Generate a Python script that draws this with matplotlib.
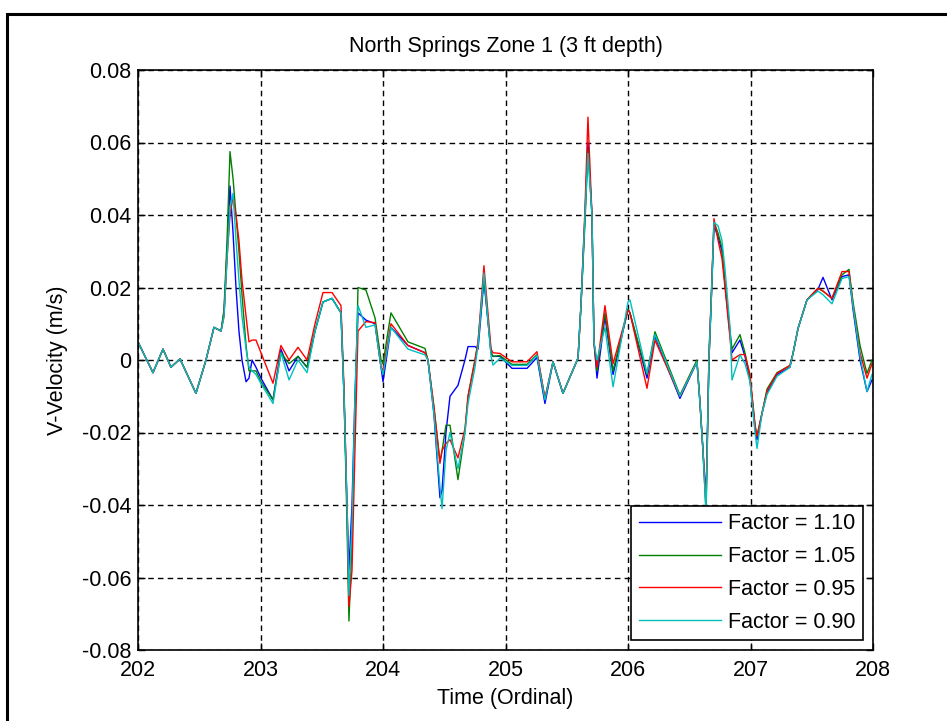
import matplotlib
matplotlib.use("Agg")
import matplotlib.pyplot as plt
from matplotlib.patches import Rectangle

plt.rcParams['font.family'] = ['Liberation Sans', 'DejaVu Sans']

# Time axis (ordinal days)
time = [202.000, 202.122, 202.204, 202.269, 202.343, 202.473, 202.555, 202.620,
        202.678, 202.702, 202.727, 202.751, 202.776, 202.800, 202.824, 202.849,
        202.882, 202.906, 202.931, 202.963, 203.004, 203.102, 203.167, 203.233,
        203.306, 203.380, 203.445, 203.510, 203.584, 203.657, 203.682, 203.706,
        203.722, 203.747, 203.771, 203.796, 203.861, 203.935, 203.984, 204.000,
        204.065, 204.204, 204.343, 204.367, 204.416, 204.465, 204.482, 204.514,
        204.547, 204.612, 204.669, 204.694, 204.751, 204.776, 204.824, 204.882,
        204.898, 204.955, 205.053, 205.176, 205.257, 205.322, 205.388, 205.469,
        205.592, 205.616, 205.649, 205.673, 205.706, 205.722, 205.747, 205.812,
        205.878, 206.000, 206.016, 206.155, 206.220, 206.424, 206.563, 206.588,
        206.612, 206.637, 206.661, 206.678, 206.702, 206.735, 206.767, 206.792,
        206.833, 206.849, 206.914, 206.955, 206.996, 207.037, 207.053, 207.094,
        207.135, 207.216, 207.322, 207.347, 207.388, 207.461, 207.551, 207.592,
        207.665, 207.747, 207.804, 207.837, 207.894, 207.951, 207.992]

# V-velocity (m/s) for each roughness factor
v_110 = [0.0050, -0.0035, 0.0030, -0.0020, 0.0003, -0.0092, 0.0000, 0.0090,
         0.0080, 0.0130, 0.0300, 0.0480, 0.0350, 0.0200, 0.0080, 0.0000,
         -0.0060, -0.0050, 0.0000, -0.0020, -0.0050, -0.0110, 0.0030, -0.0030,
         0.0010, -0.0020, 0.0080, 0.0160, 0.0170, 0.0130, -0.0100, -0.0400,
         -0.0580, -0.0400, -0.0100, 0.0130, 0.0110, 0.0100, -0.0020, -0.0060,
         0.0090, 0.0040, 0.0020, 0.0000, -0.0150, -0.0380, -0.0360, -0.0200,
         -0.0100, -0.0070, 0.0000, 0.0037, 0.0037, 0.0030, 0.0220, 0.0020,
         0.0010, 0.0010, -0.0023, -0.0023, 0.0007, -0.0120, -0.0005, -0.0092,
         0.0005, 0.0150, 0.0400, 0.0600, 0.0400, 0.0050, -0.0050, 0.0120,
         -0.0040, 0.0140, 0.0130, -0.0050, 0.0065, -0.0106, -0.0005, -0.0120,
         -0.0250, -0.0380, 0.0000, 0.0150, 0.0370, 0.0340, 0.0300, 0.0210,
         0.0070, 0.0020, 0.0055, 0.0010, -0.0055, -0.0190, -0.0220, -0.0147,
         -0.0090, -0.0040, -0.0020, 0.0018, 0.0087, 0.0166, 0.0195, 0.0228,
         0.0166, 0.0230, 0.0235, 0.0140, 0.0000, -0.0087, -0.0055]

v_105 = [0.0050, -0.0035, 0.0030, -0.0020, 0.0003, -0.0092, 0.0000, 0.0090,
         0.0080, 0.0140, 0.0330, 0.0575, 0.0500, 0.0400, 0.0300, 0.0180,
         0.0040, -0.0030, -0.0030, -0.0030, -0.0060, -0.0110, 0.0020, -0.0010,
         0.0010, -0.0020, 0.0080, 0.0160, 0.0170, 0.0130, -0.0100, -0.0450,
         -0.0720, -0.0500, -0.0150, 0.0200, 0.0193, 0.0116, 0.0000, -0.0010,
         0.0130, 0.0050, 0.0032, 0.0000, -0.0130, -0.0280, -0.0250, -0.0180,
         -0.0180, -0.0330, -0.0200, -0.0100, 0.0000, 0.0050, 0.0230, 0.0020,
         0.0010, 0.0012, -0.0012, -0.0012, 0.0015, -0.0106, -0.0005, -0.0092,
         0.0005, 0.0150, 0.0380, 0.0580, 0.0400, 0.0050, -0.0030, 0.0130,
         -0.0030, 0.0140, 0.0130, -0.0040, 0.0078, -0.0097, 0.0000, -0.0120,
         -0.0250, -0.0420, 0.0000, 0.0150, 0.0380, 0.0350, 0.0310, 0.0210,
         0.0080, 0.0030, 0.0070, 0.0020, -0.0050, -0.0180, -0.0210, -0.0147,
         -0.0080, -0.0035, -0.0015, 0.0018, 0.0087, 0.0166, 0.0198, 0.0190,
         0.0170, 0.0235, 0.0250, 0.0160, 0.0040, -0.0037, 0.0000]

v_095 = [0.0050, -0.0035, 0.0030, -0.0020, 0.0003, -0.0092, 0.0000, 0.0090,
         0.0080, 0.0120, 0.0280, 0.0400, 0.0450, 0.0400, 0.0330, 0.0220,
         0.0120, 0.0050, 0.0055, 0.0055, 0.0020, -0.0064, 0.0040, 0.0000,
         0.0035, 0.0000, 0.0100, 0.0186, 0.0186, 0.0150, -0.0080, -0.0400,
         -0.0680, -0.0580, -0.0250, 0.0080, 0.0106, 0.0103, -0.0020, -0.0030,
         0.0100, 0.0040, 0.0020, 0.0000, -0.0130, -0.0285, -0.0250, -0.0230,
         -0.0220, -0.0270, -0.0190, -0.0100, 0.0000, 0.0050, 0.0260, 0.0030,
         0.0020, 0.0018, -0.0005, -0.0005, 0.0023, -0.0106, -0.0005, -0.0092,
         0.0005, 0.0150, 0.0420, 0.0670, 0.0400, 0.0050, -0.0020, 0.0150,
         -0.0010, 0.0138, 0.0130, -0.0078, 0.0055, -0.0100, -0.0005, -0.0120,
         -0.0250, -0.0400, 0.0020, 0.0160, 0.0390, 0.0330, 0.0280, 0.0200,
         0.0060, 0.0000, 0.0015, 0.0015, -0.0040, -0.0180, -0.0210, -0.0147,
         -0.0085, -0.0037, -0.0015, 0.0018, 0.0087, 0.0166, 0.0198, 0.0190,
         0.0170, 0.0244, 0.0244, 0.0150, 0.0020, -0.0050, -0.0010]

v_090 = [0.0050, -0.0035, 0.0030, -0.0020, 0.0003, -0.0092, 0.0000, 0.0090,
         0.0080, 0.0120, 0.0280, 0.0420, 0.0460, 0.0330, 0.0220, 0.0120,
         0.0030, -0.0020, -0.0030, -0.0040, -0.0065, -0.0120, 0.0020, -0.0055,
         0.0000, -0.0035, 0.0080, 0.0160, 0.0170, 0.0130, -0.0100, -0.0400,
         -0.0650, -0.0450, -0.0100, 0.0150, 0.0090, 0.0097, -0.0020, -0.0040,
         0.0090, 0.0030, 0.0014, 0.0000, -0.0150, -0.0350, -0.0410, -0.0250,
         -0.0200, -0.0300, -0.0200, -0.0120, -0.0020, 0.0040, 0.0240, 0.0010,
         -0.0014, 0.0005, -0.0015, -0.0015, 0.0013, -0.0110, -0.0005, -0.0092,
         0.0005, 0.0150, 0.0400, 0.0570, 0.0400, 0.0050, 0.0000, 0.0090,
         -0.0074, 0.0160, 0.0166, -0.0037, 0.0070, -0.0100, -0.0005, -0.0120,
         -0.0250, -0.0420, 0.0010, 0.0150, 0.0380, 0.0370, 0.0330, 0.0250,
         0.0090, -0.0055, 0.0014, -0.0010, -0.0060, -0.0200, -0.0244, -0.0147,
         -0.0095, -0.0045, -0.0020, 0.0018, 0.0087, 0.0166, 0.0190, 0.0180,
         0.0155, 0.0225, 0.0230, 0.0150, 0.0010, -0.0087, -0.0040]

series = [
    ("Factor = 1.10", v_110, (0.0, 0.0, 1.0)),
    ("Factor = 1.05", v_105, (0.0, 0.5, 0.0)),
    ("Factor = 0.95", v_095, (1.0, 0.0, 0.0)),
    ("Factor = 0.90", v_090, (0.0, 0.75, 0.75)),
]

x_ticks = [202, 203, 204, 205, 206, 207, 208]
y_ticks = [-0.08, -0.06, -0.04, -0.02, 0, 0.02, 0.04, 0.06, 0.08]
y_tick_labels = ["-0.08", "-0.06", "-0.04", "-0.02", "0", "0.02", "0.04", "0.06", "0.08"]

W, H = 947, 721
fig = plt.figure(figsize=(W / 100, H / 100), dpi=100)
fig.patch.set_facecolor("white")

# Outer frame around the figure
fig.patches.append(Rectangle((7 / W, -0.05), 1.1, (H - 14) / H + 0.05,
                             transform=fig.transFigure, fill=False,
                             edgecolor="black", linewidth=2.2, zorder=0))

ax = fig.add_axes([138 / W, 71 / H, (873 - 138) / W, (650 - 70) / H])

for label, vals, color in series:
    ax.plot(time, vals, color=color, linewidth=1.0, label=label)

ax.set_xlim(202, 208)
ax.set_ylim(-0.08, 0.08)
ax.set_xticks(x_ticks)
ax.set_xticklabels([str(t) for t in x_ticks])
ax.set_yticks(y_ticks)
ax.set_yticklabels(y_tick_labels)

ax.grid(True, color="black", linestyle=(0, (4, 3)), linewidth=1.0)
ax.set_axisbelow(True)
ax.tick_params(direction="in", top=True, right=True, length=5, width=1,
               labelsize=15.5)
ax.tick_params(axis="x", pad=7)
ax.tick_params(axis="y", pad=5)
for sp in ax.spines.values():
    sp.set_linewidth(1.2)

ax.set_title("North Springs Zone 1 (3 ft depth)", fontsize=15.5, pad=13)
ax.set_xlabel("Time (Ordinal)", fontsize=15.5, labelpad=5)
ax.set_ylabel("V-Velocity (m/s)", fontsize=15.5, labelpad=10)

leg = ax.legend(loc="lower right", fontsize=15.5, handlelength=3.8,
                frameon=True, fancybox=False, edgecolor="black",
                framealpha=1.0, borderaxespad=0.45, labelspacing=0.55,
                handletextpad=0.35, borderpad=0.35)
leg.get_frame().set_linewidth(1.2)

fig.savefig("out.png", dpi=100)
